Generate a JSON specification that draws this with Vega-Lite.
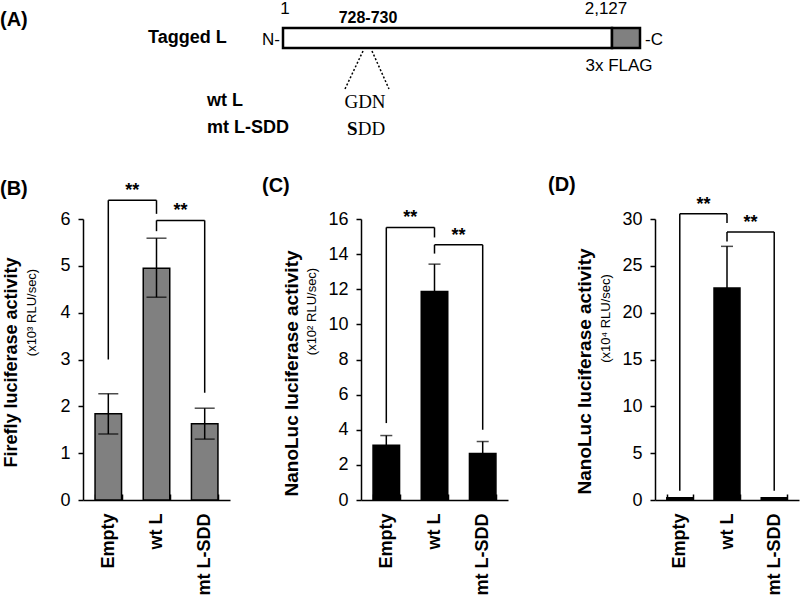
{
  "$schema": "https://vega.github.io/schema/vega-lite/v6.json",
  "padding": 0,
  "background": "white",
  "bounds": "flush",
  "spacing": 68,
  "config": {
    "font": "Liberation Sans",
    "view": {"stroke": null},
    "axis": {"domainColor": "black", "tickColor": "black", "labelColor": "black", "titleColor": "black", "domainWidth": 1.5, "tickWidth": 1.5, "grid": false},
    "title": {"fontSize": 20, "fontWeight": "bold", "anchor": "start", "frame": "group", "color": "black", "offset": 0}
  },
  "vconcat": [
    {
      "width": 800,
      "height": 150,
      "encoding": {
        "x": {"field": "x", "type": "quantitative", "scale": {"domain": [0, 800], "nice": false, "zero": false}, "axis": null},
        "y": {"field": "y", "type": "quantitative", "scale": {"domain": [0, 150], "nice": false, "zero": false, "reverse": true}, "axis": null}
      },
      "layer": [
        {
          "data": {"values": [
            {"part": "L", "x": 283, "x2": 612, "y": 27, "y2": 47},
            {"part": "FLAG", "x": 612, "x2": 640, "y": 27, "y2": 47}
          ]},
          "mark": {"type": "rect", "stroke": "black", "strokeWidth": 2.5},
          "encoding": {
            "x2": {"field": "x2"},
            "y2": {"field": "y2"},
            "color": {"field": "part", "type": "nominal", "scale": {"domain": ["L", "FLAG"], "range": ["white", "#808080"]}, "legend": null}
          }
        },
        {
          "data": {"values": [
            {"x": 363, "y": 50, "x2": 345, "y2": 88},
            {"x": 372, "y": 50, "x2": 389, "y2": 88}
          ]},
          "mark": {"type": "rule", "strokeDash": [2, 2], "strokeWidth": 1.5, "color": "black"},
          "encoding": {"x2": {"field": "x2"}, "y2": {"field": "y2"}}
        },
        {
          "data": {"values": [
            {"t": "1", "x": 285, "y": 8},
            {"t": "2,127", "x": 606, "y": 8},
            {"t": "3x FLAG", "x": 619, "y": 65},
            {"t": "N-", "x": 271, "y": 39},
            {"t": "-C", "x": 654, "y": 39}
          ]},
          "mark": {"type": "text", "fontSize": 17, "align": "center", "baseline": "middle", "color": "black"},
          "encoding": {"text": {"field": "t"}}
        },
        {
          "data": {"values": [
            {"t": "Tagged L", "x": 148, "y": 37},
            {"t": "wt L", "x": 207, "y": 100},
            {"t": "mt L-SDD", "x": 207, "y": 127}
          ]},
          "mark": {"type": "text", "fontSize": 18, "fontWeight": "bold", "align": "left", "baseline": "middle", "color": "black"},
          "encoding": {"text": {"field": "t"}}
        },
        {
          "data": {"values": [{"t": "(A)", "x": 0, "y": 19}]},
          "mark": {"type": "text", "fontSize": 20, "fontWeight": "bold", "align": "left", "baseline": "middle", "color": "black"},
          "encoding": {"text": {"field": "t"}}
        },
        {
          "data": {"values": [{"t": "728-730", "x": 368, "y": 17}]},
          "mark": {"type": "text", "fontSize": 16, "fontWeight": "bold", "align": "center", "baseline": "middle", "color": "black"},
          "encoding": {"text": {"field": "t"}}
        },
        {
          "data": {"values": [{"t": "GDN", "x": 365, "y": 101}]},
          "mark": {"type": "text", "font": "Liberation Serif", "fontSize": 19, "align": "center", "baseline": "middle", "color": "black"},
          "encoding": {"text": {"field": "t"}}
        },
        {
          "data": {"values": [{"t": "DD", "x": 357.8, "y": 128}]},
          "mark": {"type": "text", "font": "Liberation Serif", "fontSize": 19, "align": "left", "baseline": "middle", "color": "black"},
          "encoding": {"text": {"field": "t"}}
        },
        {
          "data": {"values": [{"t": "S", "x": 347, "y": 128}]},
          "mark": {"type": "text", "font": "Liberation Serif", "fontSize": 19, "fontWeight": "bold", "align": "left", "baseline": "middle", "color": "black"},
          "encoding": {"text": {"field": "t"}}
        }
      ]
    },
    {
      "bounds": "flush",
      "spacing": 0,
      "hconcat": [
        {"width": 83, "height": 281, "data": {"values": []}, "mark": "text", "encoding": {}},
        {
          "width": 147,
          "height": 281,
          "title": {"text": "(B)", "dx": -83, "dy": 21},
          "resolve": {"axis": {"y": "independent"}},
          "layer": [
            {
              "data": {"name": "B"},
              "mark": {"type": "bar", "fill": "#808080", "stroke": "black", "strokeWidth": 1.5},
              "encoding": {
                "x": {"field": "cat", "type": "nominal", "sort": null,
                  "scale": {"domain": ["Empty", "wt L", "mt L-SDD"], "paddingInner": 0.45, "paddingOuter": 0.25},
                  "axis": {"title": null, "labelAngle": -90, "labelFontSize": 18, "labelFontWeight": "bold", "tickBand": "extent", "tickSize": -6, "labelPadding": 19}},
                "y": {"field": "val", "type": "quantitative", "scale": {"domain": [0, 6], "nice": false},
                  "axis": {"title": "Firefly luciferase activity", "titleFontSize": 18, "titleFontWeight": "bold", "titlePadding": 39, "titleY": 143, "values": [0, 1, 2, 3, 4, 5, 6], "labelFontSize": 18, "tickSize": 5, "labelPadding": 8}}
              }
            },
            {
              "data": {"name": "B"},
              "mark": {"type": "rule", "strokeWidth": 1.5, "color": "black"},
              "encoding": {
                "x": {"field": "cat", "type": "nominal"},
                "y": {"field": "lo", "type": "quantitative",
                  "axis": {"orient": "left", "title": "(x10³ RLU/sec)", "titleFontSize": 13, "titleFontWeight": "normal", "labels": false, "ticks": false, "domain": false, "titlePadding": 45, "titleY": 93}},
                "y2": {"field": "hi"}
              }
            },
            {
              "data": {"name": "B"},
              "mark": {"type": "tick", "orient": "horizontal", "size": 20, "thickness": 1.5, "color": "black"},
              "encoding": {"x": {"field": "cat", "type": "nominal"}, "y": {"field": "lo", "type": "quantitative", "axis": null}}
            },
            {
              "data": {"name": "B"},
              "mark": {"type": "tick", "orient": "horizontal", "size": 20, "thickness": 1.5, "color": "black"},
              "encoding": {"x": {"field": "cat", "type": "nominal"}, "y": {"field": "hi", "type": "quantitative", "axis": null}}
            },
            {
              "data": {"values": [
                {"cat": "Empty", "y": 3.0, "y2": 6.4},
                {"cat": "wt L", "y": 6.11, "y2": 6.4},
                {"cat": "wt L", "y": 5.74, "y2": 5.97},
                {"cat": "mt L-SDD", "y": 2.29, "y2": 5.97}
              ]},
              "mark": {"type": "rule", "strokeWidth": 1.5, "color": "black"},
              "encoding": {"x": {"field": "cat", "type": "nominal"}, "y": {"field": "y", "type": "quantitative", "axis": null}, "y2": {"field": "y2"}}
            },
            {
              "data": {"values": [
                {"cat": "Empty", "cat2": "wt L", "y": 6.4},
                {"cat": "wt L", "cat2": "mt L-SDD", "y": 5.97}
              ]},
              "mark": {"type": "rule", "strokeWidth": 1.5, "color": "black"},
              "encoding": {"x": {"field": "cat", "type": "nominal"}, "x2": {"field": "cat2"}, "y": {"field": "y", "type": "quantitative", "axis": null}}
            },
            {
              "data": {"values": [
                {"cat": "Empty", "s": "**", "y": 6.4},
                {"cat": "wt L", "s": "**", "y": 5.97}
              ]},
              "mark": {"type": "text", "fontSize": 18, "fontWeight": "bold", "baseline": "alphabetic", "dx": 24, "dy": -4, "color": "black"},
              "encoding": {"x": {"field": "cat", "type": "nominal"}, "y": {"field": "y", "type": "quantitative", "axis": null}, "text": {"field": "s"}}
            }
          ]
        },
        {"width": 131, "height": 281, "data": {"values": []}, "mark": "text", "encoding": {}},
        {
          "width": 147,
          "height": 281,
          "title": {"text": "(C)", "dx": -99, "dy": -9},
          "resolve": {"axis": {"y": "independent"}},
          "layer": [
            {
              "data": {"name": "C"},
              "mark": {"type": "bar", "fill": "black", "stroke": "black", "strokeWidth": 1.5},
              "encoding": {
                "x": {"field": "cat", "type": "nominal", "sort": null,
                  "scale": {"domain": ["Empty", "wt L", "mt L-SDD"], "paddingInner": 0.45, "paddingOuter": 0.25},
                  "axis": {"title": null, "labelAngle": -90, "labelFontSize": 18, "labelFontWeight": "bold", "tickBand": "extent", "tickSize": -6, "labelPadding": 19}},
                "y": {"field": "val", "type": "quantitative", "scale": {"domain": [0, 16], "nice": false},
                  "axis": {"title": "NanoLuc luciferase activity", "titleFontSize": 19, "titleFontWeight": "bold", "titlePadding": 26, "titleY": 154, "values": [0, 2, 4, 6, 8, 10, 12, 14, 16], "labelFontSize": 18, "tickSize": 5, "labelPadding": 8}}
              }
            },
            {
              "data": {"name": "C"},
              "mark": {"type": "rule", "strokeWidth": 1.5, "color": "black"},
              "encoding": {
                "x": {"field": "cat", "type": "nominal"},
                "y": {"field": "lo", "type": "quantitative",
                  "axis": {"orient": "left", "title": "(x10² RLU/sec)", "titleFontSize": 13, "titleFontWeight": "normal", "labels": false, "ticks": false, "domain": false, "titlePadding": 43, "titleY": 92}},
                "y2": {"field": "hi"}
              }
            },
            {
              "data": {"name": "C"},
              "mark": {"type": "tick", "orient": "horizontal", "size": 12, "thickness": 1.5, "color": "black"},
              "encoding": {"x": {"field": "cat", "type": "nominal"}, "y": {"field": "hi", "type": "quantitative", "axis": null}}
            },
            {
              "data": {"values": [
                {"cat": "Empty", "y": 4.38, "y2": 15.52},
                {"cat": "wt L", "y": 14.95, "y2": 15.52},
                {"cat": "wt L", "y": 14.03, "y2": 14.53},
                {"cat": "mt L-SDD", "y": 4.0, "y2": 14.53}
              ]},
              "mark": {"type": "rule", "strokeWidth": 1.5, "color": "black"},
              "encoding": {"x": {"field": "cat", "type": "nominal"}, "y": {"field": "y", "type": "quantitative", "axis": null}, "y2": {"field": "y2"}}
            },
            {
              "data": {"values": [
                {"cat": "Empty", "cat2": "wt L", "y": 15.52},
                {"cat": "wt L", "cat2": "mt L-SDD", "y": 14.53}
              ]},
              "mark": {"type": "rule", "strokeWidth": 1.5, "color": "black"},
              "encoding": {"x": {"field": "cat", "type": "nominal"}, "x2": {"field": "cat2"}, "y": {"field": "y", "type": "quantitative", "axis": null}}
            },
            {
              "data": {"values": [
                {"cat": "Empty", "s": "**", "y": 15.52},
                {"cat": "wt L", "s": "**", "y": 14.53}
              ]},
              "mark": {"type": "text", "fontSize": 18, "fontWeight": "bold", "baseline": "alphabetic", "dx": 24, "dy": -4, "color": "black"},
              "encoding": {"x": {"field": "cat", "type": "nominal"}, "y": {"field": "y", "type": "quantitative", "axis": null}, "text": {"field": "s"}}
            }
          ]
        },
        {"width": 147, "height": 281, "data": {"values": []}, "mark": "text", "encoding": {}},
        {
          "width": 144,
          "height": 281,
          "title": {"text": "(D)", "dx": -107, "dy": 3},
          "resolve": {"axis": {"y": "independent"}},
          "layer": [
            {
              "data": {"name": "D"},
              "mark": {"type": "bar", "fill": "black", "stroke": "black", "strokeWidth": 1.5},
              "encoding": {
                "x": {"field": "cat", "type": "nominal", "sort": null,
                  "scale": {"domain": ["Empty", "wt L", "mt L-SDD"], "paddingInner": 0.45, "paddingOuter": 0.25},
                  "axis": {"title": null, "labelAngle": -90, "labelFontSize": 18, "labelFontWeight": "bold", "tickBand": "extent", "tickSize": -6, "labelPadding": 19}},
                "y": {"field": "val", "type": "quantitative", "scale": {"domain": [0, 30], "nice": false},
                  "axis": {"title": "NanoLuc luciferase activity", "titleFontSize": 19, "titleFontWeight": "bold", "titlePadding": 27, "titleY": 152, "values": [0, 5, 10, 15, 20, 25, 30], "labelFontSize": 18, "tickSize": 5, "labelPadding": 8}}
              }
            },
            {
              "data": {"name": "D"},
              "transform": [{"filter": "isValid(datum.hi)"}],
              "mark": {"type": "rule", "strokeWidth": 1.5, "color": "black"},
              "encoding": {
                "x": {"field": "cat", "type": "nominal"},
                "y": {"field": "lo", "type": "quantitative",
                  "axis": {"orient": "left", "title": "(x10⁴ RLU/sec)", "titleFontSize": 13, "titleFontWeight": "normal", "labels": false, "ticks": false, "domain": false, "titlePadding": 43, "titleY": 99}},
                "y2": {"field": "hi"}
              }
            },
            {
              "data": {"name": "D"},
              "transform": [{"filter": "isValid(datum.hi)"}],
              "mark": {"type": "tick", "orient": "horizontal", "size": 12, "thickness": 1.5, "color": "black"},
              "encoding": {"x": {"field": "cat", "type": "nominal"}, "y": {"field": "hi", "type": "quantitative", "axis": null}}
            },
            {
              "data": {"values": [
                {"cat": "Empty", "y": 1.0, "y2": 30.56},
                {"cat": "wt L", "y": 29.57, "y2": 30.56},
                {"cat": "wt L", "y": 27.6, "y2": 28.6},
                {"cat": "mt L-SDD", "y": 1.0, "y2": 28.6}
              ]},
              "mark": {"type": "rule", "strokeWidth": 1.5, "color": "black"},
              "encoding": {"x": {"field": "cat", "type": "nominal"}, "y": {"field": "y", "type": "quantitative", "axis": null}, "y2": {"field": "y2"}}
            },
            {
              "data": {"values": [
                {"cat": "Empty", "cat2": "wt L", "y": 30.56},
                {"cat": "wt L", "cat2": "mt L-SDD", "y": 28.6}
              ]},
              "mark": {"type": "rule", "strokeWidth": 1.5, "color": "black"},
              "encoding": {"x": {"field": "cat", "type": "nominal"}, "x2": {"field": "cat2"}, "y": {"field": "y", "type": "quantitative", "axis": null}}
            },
            {
              "data": {"values": [
                {"cat": "Empty", "s": "**", "y": 30.56},
                {"cat": "wt L", "s": "**", "y": 28.6}
              ]},
              "mark": {"type": "text", "fontSize": 18, "fontWeight": "bold", "baseline": "alphabetic", "dx": 23.6, "dy": -4, "color": "black"},
              "encoding": {"x": {"field": "cat", "type": "nominal"}, "y": {"field": "y", "type": "quantitative", "axis": null}, "text": {"field": "s"}}
            }
          ]
        }
      ]
    }
  ],
  "datasets": {
    "B": [
      {"cat": "Empty", "val": 1.84, "lo": 1.41, "hi": 2.27},
      {"cat": "wt L", "val": 4.95, "lo": 4.33, "hi": 5.59},
      {"cat": "mt L-SDD", "val": 1.63, "lo": 1.3, "hi": 1.96}
    ],
    "C": [
      {"cat": "Empty", "val": 3.12, "lo": 2.57, "hi": 3.67},
      {"cat": "wt L", "val": 11.87, "lo": 10.31, "hi": 13.43},
      {"cat": "mt L-SDD", "val": 2.65, "lo": 1.97, "hi": 3.33}
    ],
    "D": [
      {"cat": "Empty", "val": 0.25, "lo": null, "hi": null},
      {"cat": "wt L", "val": 22.64, "lo": 18.2, "hi": 27.08},
      {"cat": "mt L-SDD", "val": 0.25, "lo": null, "hi": null}
    ]
  }
}
